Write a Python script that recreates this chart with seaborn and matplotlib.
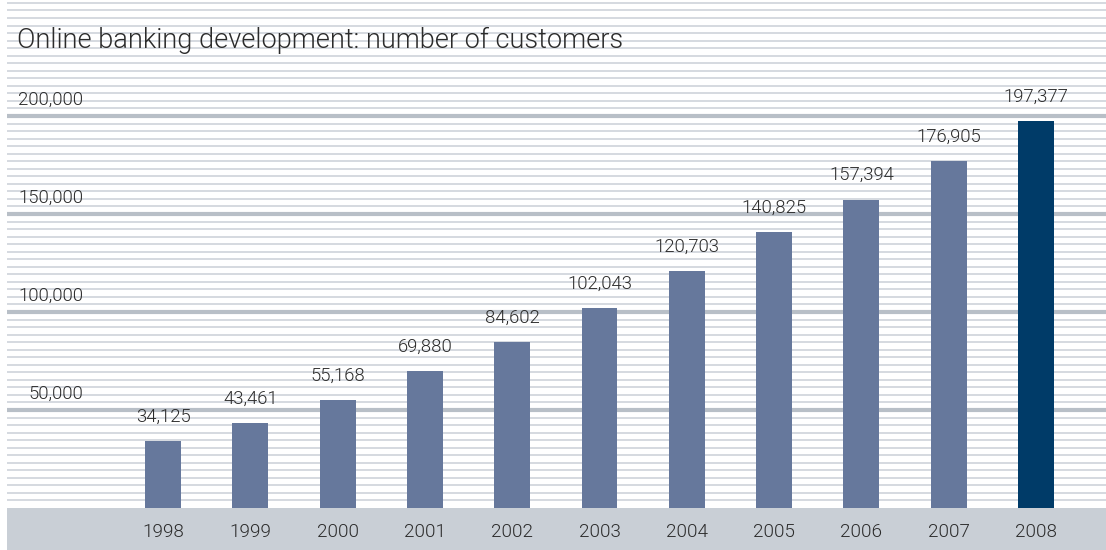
import matplotlib
matplotlib.use("Agg")
import matplotlib.pyplot as plt
import seaborn as sns
import pandas as pd

years = ["1998", "1999", "2000", "2001", "2002", "2003", "2004", "2005", "2006", "2007", "2008"]
customers = [34125, 43461, 55168, 69880, 84602, 102043, 120703, 140825, 157394, 176905, 197377]
bar_colors = ["#66789c"] * 10 + ["#003b68"]
major_ticks = [50000, 100000, 150000, 200000]
title = "Online banking development: number of customers"

sns.set_theme(style="white")
plt.rcParams["font.family"] = ["Roboto", "DejaVu Sans"]

df = pd.DataFrame({"year": years, "customers": customers})

fig = plt.figure(figsize=(11.06, 5.5), dpi=100)
ax = fig.add_axes([7 / 1106, 0, 1 - 7 / 1106, 1])

ymin, ymax = -21429, 259184
minor_step = 50000 / 13

# ruled background
k = 1
while k * minor_step < ymax:
    ax.axhline(k * minor_step, color="#cad0d7", lw=1.1, zorder=0)
    k += 1
for t in major_ticks:
    ax.axhline(t, color="#b8bfc7", lw=3, zorder=0.5)
ax.axhspan(ymin, 0, color="#c9cfd6", lw=0, zorder=0.8)

sns.barplot(data=df, x="year", y="customers", hue="year", palette=bar_colors,
            width=0.412, legend=False, saturation=1, linewidth=0, ax=ax, zorder=2)

ax.set_xlim(-1.787, 10.802)
ax.set_ylim(ymin, ymax)
ax.axis("off")

txt = "#2b2b2b"
fw = 300
fs = 13.3
for i, (y, c) in enumerate(zip(years, customers)):
    ax.annotate(f"{c:,}", (i, c), xytext=(0, 11), textcoords="offset points",
                ha="center", va="bottom", fontsize=fs, color=txt, fontweight=fw)
    ax.text(i, -12300, y, ha="center", va="center", fontsize=fs + 0.3, color=txt,
            fontweight=fw)

for t in major_ticks:
    ax.annotate(f"{t:,}", (-0.916, t), xytext=(0, 5), textcoords="offset points",
                ha="right", va="bottom", fontsize=fs, color=txt, fontweight=fw)

fig.text(17 / 1106, 1 - 48 / 550, title, ha="left", va="baseline",
         fontsize=19.5, color=txt, fontweight=fw)

fig.savefig("out.png", dpi=100)
